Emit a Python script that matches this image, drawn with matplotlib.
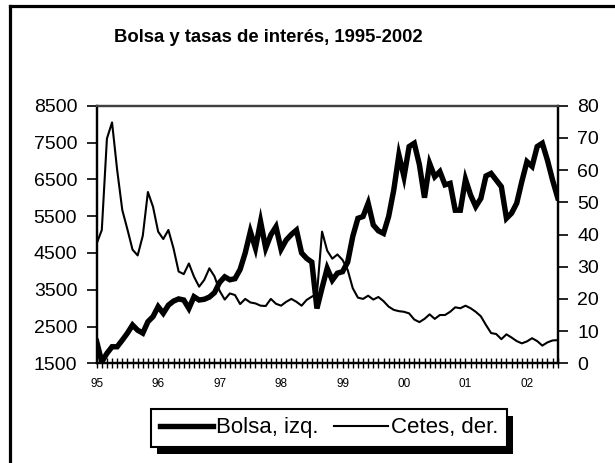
import numpy as np
import matplotlib
matplotlib.use('Agg')
import matplotlib.pyplot as plt
from matplotlib.lines import Line2D
from matplotlib.patches import Rectangle

plt.rcParams['font.family'] = ['Liberation Sans', 'DejaVu Sans']

# monthly, Jan 1995 - Jul 2002
bolsa = [2090, 1540, 1770, 1950, 1950, 2130, 2320, 2540, 2400, 2320, 2630, 2770,
         3040, 2860, 3080, 3190, 3250, 3220, 2990, 3310, 3220, 3240, 3300, 3420,
         3700, 3850, 3770, 3800, 4050, 4500, 5080, 4630, 5350, 4630, 4990, 5210,
         4600, 4850, 5000, 5120, 4500, 4350, 4250, 2990, 3550, 4080, 3760, 3950,
         3990, 4250, 4950, 5440, 5490, 5850, 5260, 5100, 5030, 5490, 6210, 7160,
         6570, 7390, 7480, 6900, 6000, 6930, 6570, 6710, 6350, 6390, 5660, 5660,
         6500, 6070, 5760, 5980, 6590, 6660, 6480, 6300, 5440, 5580, 5850, 6440,
         6980, 6850, 7390, 7480, 7020, 6480, 6000]
cetes = [37.2, 41.4, 69.8, 74.8, 60.0, 47.6, 41.6, 35.3, 33.5, 39.6, 53.2, 48.6,
         40.9, 38.6, 41.4, 35.7, 28.5, 27.7, 31.0, 26.9, 23.8, 25.9, 29.5, 27.0,
         22.5, 19.8, 21.7, 21.2, 18.4, 20.0, 18.9, 18.6, 17.9, 17.8, 20.0, 18.5,
         17.9, 19.1, 20.0, 19.1, 17.9, 19.7, 20.7, 21.5, 40.9, 35.0, 32.5, 33.8,
         32.1, 29.0, 23.3, 20.4, 20.0, 21.0, 19.8, 20.6, 19.3, 17.6, 16.6, 16.2,
         16.0, 15.5, 13.6, 12.8, 13.8, 15.2, 13.8, 15.0, 15.0, 16.0, 17.4, 17.1,
         17.9, 17.1, 16.0, 14.6, 11.9, 9.4, 9.1, 7.5, 9.0, 8.0, 6.9, 6.2,
         6.8, 7.8, 6.9, 5.5, 6.5, 7.1, 7.2]
year_labels = ['95', '96', '97', '98', '99', '00', '01', '02']

x = np.arange(len(bolsa))

fig = plt.figure(figsize=(6.15, 4.63), dpi=100)
ax = fig.add_axes([0.1572, 0.2153, 0.7496, 0.5564])
ax2 = ax.twinx()

l1, = ax.plot(x, bolsa, color='black', lw=3.9, solid_joinstyle='miter')
l2, = ax2.plot(x, cetes, color='black', lw=1.5)

ax.set_xlim(0, len(bolsa) - 1)
ax.set_ylim(1500, 8500)
ax.set_yticks(np.arange(1500, 8501, 1000))
ax2.set_ylim(0, 80)
ax2.set_yticks(np.arange(0, 81, 10))

ax.set_xticks(x, minor=True)
ax.set_xticks(np.arange(0, len(bolsa), 12))
ax.set_xticklabels(year_labels)
ax.tick_params(axis='x', which='both', direction='inout', length=7, width=1, pad=7, labelsize=8.5)
ax.tick_params(axis='y', direction='out', length=7, width=1.2, pad=7, labelsize=14)
ax2.tick_params(axis='y', direction='out', length=7, width=1.2, pad=7, labelsize=14)

for a in (ax, ax2):
    for s in a.spines.values():
        s.set_linewidth(1.6)
        s.set_color('black')
    a.spines['top'].set_color('#404040')

fig.text(268 / 615, 1 - 37 / 463, 'Bolsa y tasas de interés, 1995-2002',
         ha='center', va='center', fontsize=13.3, fontweight='bold')

leg = fig.legend([l1, l2], ['Bolsa, izq.', 'Cetes, der.'], loc='center',
                 bbox_to_anchor=(329 / 615, 1 - 428 / 463), ncol=2, fontsize=16,
                 frameon=True, fancybox=False, framealpha=1, handlelength=2.4,
                 handletextpad=0.15, columnspacing=0.7, borderpad=0.4, borderaxespad=0)
leg.get_frame().set_edgecolor('black')
leg.get_frame().set_linewidth(1.5)
leg.set_zorder(5)

fig.canvas.draw()
bb = leg.get_window_extent().transformed(fig.transFigure.inverted())
fig.patches.append(Rectangle((bb.x0 + 6 / 615, bb.y0 - 7 / 463), bb.width, bb.height,
                             transform=fig.transFigure, facecolor='black',
                             edgecolor='none', zorder=4))

# outer frame (left and top only)
fig.add_artist(Line2D([9.5 / 615, 9.5 / 615], [0, 1 - 6 / 463], transform=fig.transFigure,
                      color='black', lw=2.3))
fig.add_artist(Line2D([9.5 / 615, 1], [1 - 6 / 463, 1 - 6 / 463], transform=fig.transFigure,
                      color='black', lw=2.3))

fig.savefig('out.png', dpi=100)
